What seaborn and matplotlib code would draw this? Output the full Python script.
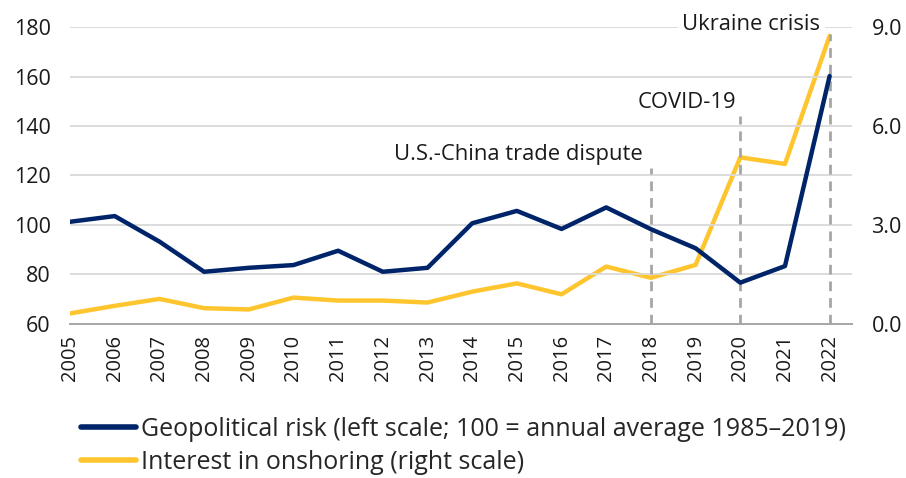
import pandas as pd
import numpy as np
import matplotlib.pyplot as plt
import seaborn as sns
from matplotlib.lines import Line2D

years = [str(y) for y in range(2005, 2023)]
geo_risk = [101.3, 103.6, 93.3, 81.1, 82.7, 83.8, 89.6, 81.1, 82.7, 100.7,
            105.7, 98.4, 107.1, 98.3, 90.6, 76.7, 83.4, 160.2]
onshoring = [0.32, 0.55, 0.76, 0.48, 0.44, 0.80, 0.71, 0.71, 0.65, 0.98,
             1.23, 0.90, 1.74, 1.40, 1.79, 5.05, 4.85, 8.73]
events = ["U.S.-China trade dispute", "COVID-19", "Ukraine crisis"]
event_years = ["2018", "2020", "2022"]

navy = "#002469"
yellow = "#FEC52E"
grey = "#A6A6A6"

df = pd.DataFrame({"year": years, "geo": geo_risk, "onshore": onshoring})
df["pos"] = np.arange(len(years))

sns.set_style("white")
plt.rcParams["font.family"] = ["Open Sans", "DejaVu Sans"]

fig = plt.figure(figsize=(9.06, 4.78), dpi=100)
ax = fig.add_axes([0.0773, 0.3222, 0.8631, 0.6213])
ax2 = ax.twinx()

sns.lineplot(data=df, x="pos", y="geo", ax=ax, color=navy, linewidth=3.2, zorder=4)
sns.lineplot(data=df, x="pos", y="onshore", ax=ax2, color=yellow, linewidth=3.2, zorder=3)

ax.set_zorder(ax2.get_zorder() + 1)
ax.patch.set_visible(False)

ax.set_ylim(60, 180)
ax.set_yticks(range(60, 181, 20))
ax2.set_ylim(0, 9)
ax2.set_yticks([0, 3, 6, 9])
ax2.set_yticklabels([f"{v:.1f}" for v in [0, 3, 6, 9]])
ax.set_xlim(0, 17.5)
ax.set_xticks(df["pos"])
ax.set_xticklabels(years, rotation=90)

ax.grid(axis="y", color="#D9D9D9", linewidth=1.3, zorder=0)
ax.set_axisbelow(True)

for a in (ax, ax2):
    for s in ("top", "left", "right"):
        a.spines[s].set_visible(False)
    a.spines["bottom"].set_color(grey)
    a.spines["bottom"].set_linewidth(1.3)
    a.set_xlabel("")
    a.set_ylabel("")

ax.tick_params(axis="x", length=6, color=grey, width=1.3, labelsize=14.5, pad=2)
ax.tick_params(axis="y", length=0, labelsize=15.5, pad=14)
ax2.tick_params(axis="y", length=0, labelsize=15.5, pad=14)
for lab in ax.get_yticklabels() + ax2.get_yticklabels() + ax.get_xticklabels():
    lab.set_color("#1A1A1A")

# event markers
tops = [123, 144, 177]
for ev, yr, top in zip(events, event_years, tops):
    xpos = years.index(yr)
    ax.plot([xpos, xpos], [60, top], color=grey, linestyle=(0, (3.5, 2.5)),
            linewidth=2, zorder=2)

ax.text(years.index("2018") - 0.18, 128.5, events[0], ha="right", va="center",
        fontsize=15.8, color="#1A1A1A")
ax.text(years.index("2020") - 1.2, 149.5, events[1], ha="center", va="center",
        fontsize=15.8, color="#1A1A1A")
ax.text(years.index("2022") - 1.75, 181.2, events[2], ha="center", va="center",
        fontsize=15.8, color="#1A1A1A",
        bbox=dict(facecolor="white", edgecolor="none", pad=3), zorder=5)

handles = [Line2D([], [], color=navy, linewidth=4),
           Line2D([], [], color=yellow, linewidth=4)]
labels = ["Geopolitical risk (left scale; 100 = annual average 1985\u20132019)",
          "Interest in onshoring (right scale)"]
fig.legend(handles, labels, loc="lower left", bbox_to_anchor=(0.078, -0.014),
           frameon=False, fontsize=18, handlelength=2.2, handletextpad=0.2,
           labelspacing=0.32, borderaxespad=0)

fig.savefig("out.png", dpi=100)
